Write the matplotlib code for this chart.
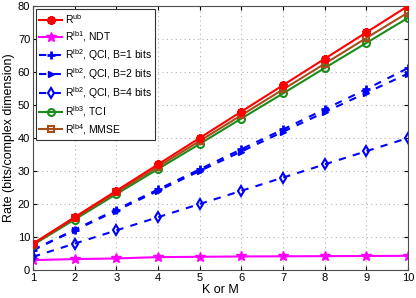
import matplotlib
matplotlib.use("Agg")
import matplotlib.pyplot as plt
import numpy as np

plt.rcParams['font.family'] = ['Liberation Sans', 'DejaVu Sans']
plt.rcParams['mathtext.fontset'] = 'custom'
plt.rcParams['mathtext.rm'] = 'Liberation Sans'

K = [1, 2, 3, 4, 5, 6, 7, 8, 9, 10]
r_ub = [8, 16, 24, 32, 40, 48, 56, 64, 72, 80]
r_ndt = [3.0, 3.3, 3.5, 3.9, 4.0, 4.1, 4.15, 4.2, 4.25, 4.3]
r_qci_b1 = [6.1, 12.2, 18.3, 24.4, 30.5, 36.6, 42.6, 48.7, 54.8, 61.2]
r_qci_b2 = [6.0, 12.0, 18.0, 24.0, 30.0, 35.9, 41.9, 47.8, 53.7, 59.5]
r_qci_b4 = [4, 8, 12, 16, 20, 24, 28, 32, 36, 40]
r_tci = [7.6, 15.3, 23.0, 30.6, 38.2, 45.9, 53.5, 61.2, 68.8, 76.4]
r_mmse = [7.8, 15.7, 23.5, 31.3, 39.1, 46.9, 54.7, 62.5, 70.3, 78.0]

labels = [r'R$^{\mathrm{ub}}$', r'R$^{\mathrm{lb1}}$, NDT',
          r'R$^{\mathrm{lb2}}$, QCI, B=1 bits', r'R$^{\mathrm{lb2}}$, QCI, B=2 bits',
          r'R$^{\mathrm{lb2}}$, QCI, B=4 bits', r'R$^{\mathrm{lb3}}$, TCI',
          r'R$^{\mathrm{lb4}}$, MMSE']

fig = plt.figure(figsize=(4.16, 2.98), dpi=100)
ax = fig.add_axes([33/416, 1 - 270/298, (408-33)/416, (270-6)/298])

red = (1, 0, 0)
mag = (1, 0, 1)
blue = (0, 0, 1)
green = (0.1, 0.55, 0.1)
brown = (0.65, 0.3, 0.1)
dash = (0, (3.5, 3.5))

ax.plot(K, r_ub, color=red, lw=1.5, marker=(6, 2, 0), ms=6, mew=2.5, label=labels[0], zorder=5)
ax.plot(K, r_ndt, color=mag, lw=1.5, marker='*', ms=7, label=labels[1])
ax.plot(K, r_qci_b1, color=blue, lw=1.5, ls=dash, marker='+', ms=6, mew=2, label=labels[2])
ax.plot(K, r_qci_b2, color=blue, lw=1.5, ls=dash, marker='>', ms=5, mfc=blue, label=labels[3])
ax.plot(K, r_qci_b4, color=blue, lw=1.5, ls=dash, marker='d', ms=5, mfc='none', mew=1.5, label=labels[4])
ax.plot(K, r_tci, color=green, lw=1.5, marker='o', ms=5, mfc='none', mew=1.5, label=labels[5])
ax.plot(K, r_mmse, color=brown, lw=1.5, marker='s', ms=5, mfc='none', mew=1.5, label=labels[6], zorder=4)

ax.set_xlim(1, 10)
ax.set_ylim(0, 80)
ax.set_xticks(K)
ax.set_yticks(np.arange(0, 81, 10))
ax.tick_params(direction='in', labelsize=8, length=3, top=True, right=True, pad=2)
ax.grid(True, ls=(0, (1, 3)), color='0.7', lw=0.8)
for s in ax.spines.values():
    s.set_linewidth(0.8)
    s.set_color('0.3')
ax.set_xlabel('K or M', fontsize=9, labelpad=1)
ax.set_ylabel('Rate (bits/complex dimension)', fontsize=9, labelpad=2)

leg = ax.legend(loc='upper left', fontsize=7.5, frameon=True, fancybox=False,
                edgecolor='0.2', framealpha=1, borderpad=0.3, labelspacing=0.3,
                handlelength=2.2, handletextpad=0.3, borderaxespad=0.3)
leg.get_frame().set_linewidth(0.8)

fig.savefig('out.png', dpi=100)
